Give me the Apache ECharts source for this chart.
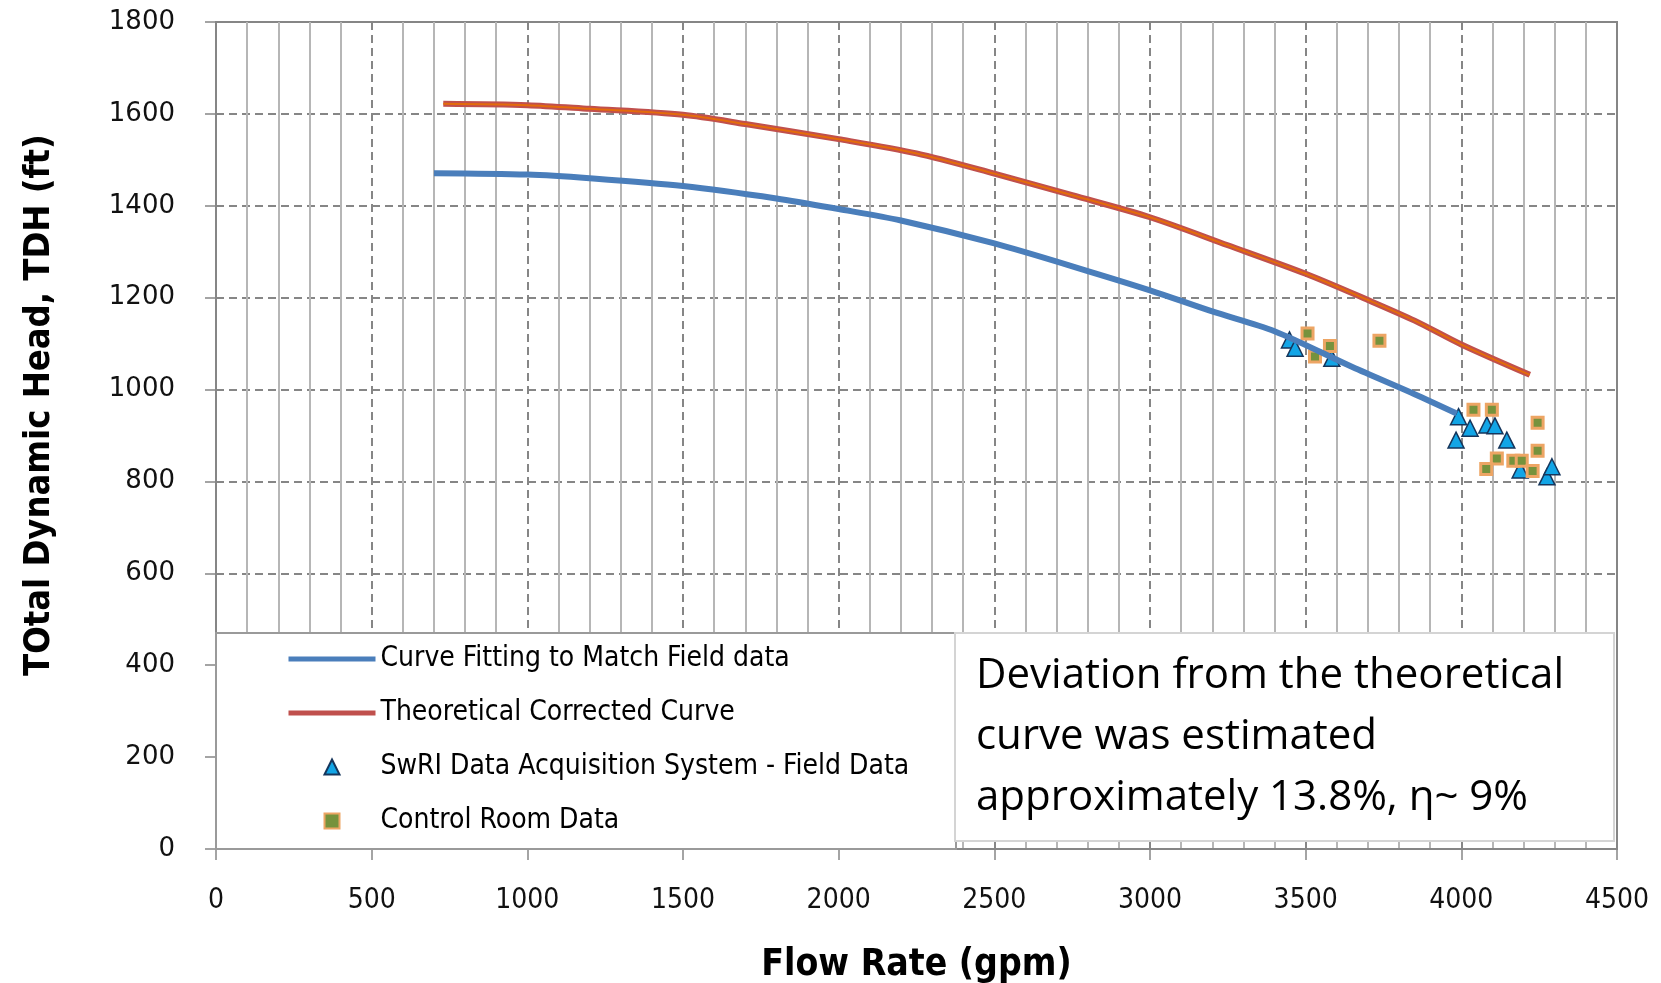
<!DOCTYPE html>
<html>
<head>
<meta charset="utf-8">
<script src="https://cdn.jsdelivr.net/npm/echarts@6/dist/echarts.min.js"></script>
<style>
  html, body { margin: 0; padding: 0; background: #fff; }
  #chart { width: 1661px; height: 983px; }
</style>
</head>
<body>
<div id="chart"></div>
<script>
// curve fitting to match field data (gpm, ft)
const fitFlow = [700, 1000, 1200, 1500, 1800, 2000, 2200, 2500, 2800, 3000, 3200, 3400, 3650, 3850, 3985]
const fitHead = [1471, 1468, 1460, 1443, 1416, 1393, 1368, 1318, 1258, 1216, 1170, 1127, 1049, 990, 948]

// theoretical corrected curve
const theoFlow = [730, 1000, 1200, 1500, 1700, 2000, 2250, 2500, 2750, 3000, 3250, 3500, 3700, 3850, 4000, 4220]
const theoHead = [1622, 1619, 1611, 1598, 1578, 1545, 1514, 1470, 1423, 1375, 1314, 1252, 1195, 1150, 1098, 1032]

// SwRI data acquisition system - field data
const swriFlow = [3448, 3466, 3584, 3991, 4028, 3983, 4082, 4108, 4146, 4189, 4275, 4291]
const swriHead = [1108, 1090, 1068, 941, 916, 890, 923, 921, 890, 825, 810, 832]

// control room data
const ctrlFlow = [3506, 3578, 3530, 3737, 4039, 4098, 4245, 4245, 4114, 4080, 4167, 4194, 4229]
const ctrlHead = [1122, 1095, 1072, 1106, 956, 956, 928, 867, 850, 827, 845, 845, 823]

const names = [
  'Curve Fitting to Match Field data',
  'Theoretical Corrected Curve',
  'SwRI Data Acquisition System - Field Data',
  'Control Room Data'
]
const note = 'Deviation from the theoretical\ncurve was estimated\napproximately 13.8%, η~ 9%'

const pairs = (xs, ys) => xs.map((x, i) => [x, ys[i]])

const chart = echarts.init(document.getElementById('chart'))

const axisGray = '#868686'

const option = {
  animation: false,
  backgroundColor: '#fff',
  grid: {
    left: 216, right: 44, top: 22, bottom: 134,
    outerBoundsMode: 'none',
    show: true, borderColor: axisGray, borderWidth: 2
  },
  xAxis: {
    type: 'value', min: 0, max: 4500, interval: 500,
    name: 'Flow Rate (gpm)', nameLocation: 'middle', nameGap: 98,
    nameTextStyle: { fontFamily: '"DejaVu Sans Condensed"', fontWeight: 'bold', fontSize: 37, color: '#000' },
    axisLine: { lineStyle: { color: axisGray, width: 2 } },
    axisTick: { show: true, length: 11, lineStyle: { color: axisGray, width: 1.5 } },
    axisLabel: {
      margin: 38, fontFamily: '"DejaVu Sans Condensed"', fontSize: 28, color: '#111',
      formatter: v => String(v)
    },
    splitLine: { show: true, lineStyle: { color: axisGray, width: 2, type: [8, 5] } },
    minorTick: { show: false, splitNumber: 5 },
    minorSplitLine: { show: true, lineStyle: { color: '#b6b6b6', width: 2 } }
  },
  yAxis: {
    type: 'value', min: 0, max: 1800, interval: 200,
    axisLine: { show: true, lineStyle: { color: axisGray, width: 2 } },
    axisTick: { show: true, length: 11, lineStyle: { color: axisGray, width: 1.5 } },
    axisLabel: {
      margin: 41, fontFamily: '"DejaVu Sans"', fontSize: 26, color: '#111',
      formatter: v => String(v)
    },
    splitLine: { show: true, lineStyle: { color: axisGray, width: 2, type: [8, 5] } }
  },
  legend: {
    orient: 'vertical', left: 286, top: 645, padding: 0,
    itemWidth: 87, itemHeight: 15, itemGap: 26, z: 5,
    symbolKeepAspect: true,
    textStyle: { fontFamily: '"DejaVu Sans Condensed"', fontSize: 28, color: '#000' },
    data: [
      { name: names[0], itemStyle: { opacity: 0 }, lineStyle: { width: 5 } },
      { name: names[1], itemStyle: { opacity: 0 }, lineStyle: { width: 5 } },
      { name: names[2], icon: 'path://M8,0L16,16L0,16Z' },
      { name: names[3], icon: 'path://M0,0L14,0L14,14L0,14Z' }
    ]
  },
  graphic: [
    {
      type: 'rect', z: 3,
      shape: { x: 216, y: 633, width: 740, height: 216 },
      style: { fill: '#fff', stroke: '#9a9a9a', lineWidth: 2 }
    },
    {
      type: 'rect', z: 3,
      shape: { x: 955, y: 633, width: 659, height: 208 },
      style: { fill: '#fff', stroke: '#d4d4d4', lineWidth: 2 }
    },
    {
      type: 'text', z: 6, x: 976, y: 646,
      style: { text: note, font: '42px "Open Sans"', lineHeight: 61, fill: '#000' }
    },
    {
      type: 'text', z: 6, x: 40, y: 405, rotation: Math.PI / 2,
      style: {
        text: 'TOtal Dynamic Head, TDH (ft)',
        font: 'bold 36px "DejaVu Sans Condensed"',
        align: 'center', verticalAlign: 'middle', fill: '#000'
      }
    }
  ],
  series: [
    {
      name: names[0], type: 'line', smooth: 0.3, symbol: 'none',
      data: pairs(fitFlow, fitHead),
      lineStyle: { color: '#4a7ebb', width: 6 },
      itemStyle: { color: '#4a7ebb' }
    },
    {
      name: names[1], type: 'line', smooth: 0.3, symbol: 'none',
      data: pairs(theoFlow, theoHead),
      lineStyle: { color: '#c0504d', width: 6 },
      itemStyle: { color: '#c0504d' }
    },
    {
      // orange core drawn on the theoretical curve
      name: 'theo-core', type: 'line', smooth: 0.3, symbol: 'none',
      data: pairs(theoFlow, theoHead),
      lineStyle: { color: '#e46c0a', width: 2 }
    },
    {
      name: names[2], type: 'scatter', symbol: 'triangle', symbolSize: 16,
      data: pairs(swriFlow, swriHead),
      itemStyle: { color: '#12a5e6', borderColor: '#16365c', borderWidth: 1.5, opacity: 1 }
    },
    {
      name: names[3], type: 'scatter', symbol: 'rect', symbolSize: 11,
      data: pairs(ctrlFlow, ctrlHead),
      itemStyle: { color: '#76923c', borderColor: '#eda564', borderWidth: 3, opacity: 1 }
    }
  ]
}

chart.setOption(option)
</script>
</body>
</html>
